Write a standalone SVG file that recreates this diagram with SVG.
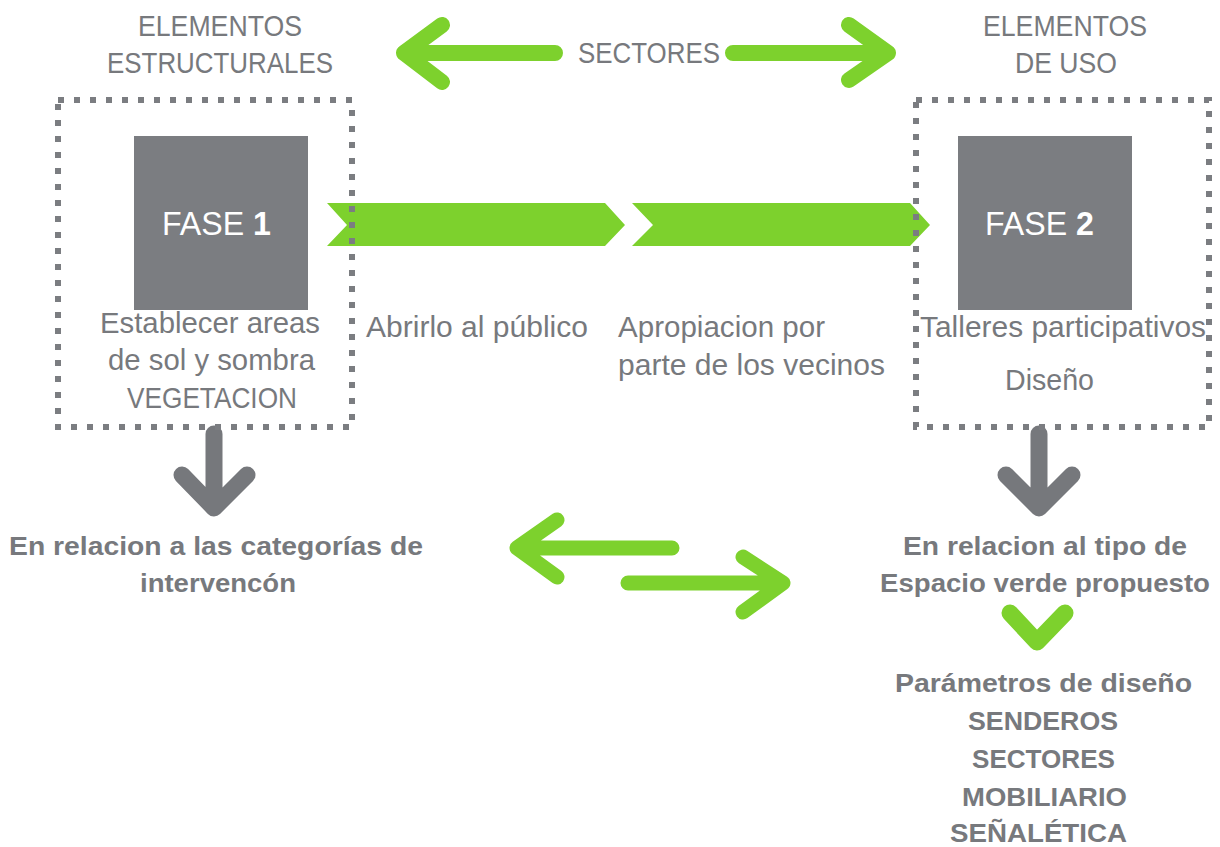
<svg xmlns="http://www.w3.org/2000/svg" width="1220" height="847" viewBox="0 0 1220 847">
<style>
.t{font-family:"Liberation Sans",Arial,sans-serif;fill:#77797d;font-size:29px}
.b{font-family:"Liberation Sans",Arial,sans-serif;fill:#77797d;font-size:26px;font-weight:bold}
.f{font-family:"Liberation Sans",Arial,sans-serif;fill:#ffffff;font-size:33px}
.box{fill:#7b7d81}
.dot{fill:none;stroke:#7b7d81;stroke-width:6;stroke-dasharray:6 10}
.ga{fill:none;stroke:#7dd12d;stroke-width:16;stroke-linecap:round;stroke-linejoin:round}
.gr{fill:none;stroke:#76787c;stroke-width:17;stroke-linecap:round;stroke-linejoin:round}
.chev{fill:#7dd12d}
</style>
<rect width="1220" height="847" fill="#ffffff"/>
<g id="connectors">
<polygon class="chev" points="327,203 605,203 625,225 605,246 327,246 347,225"/>
<polygon class="chev" points="632,203 910,203 930,225 910,246 632,246 653,225"/>
<path class="ga" d="M555,53 H404 M442,25 L404,53 L442,82"/>
<path class="ga" d="M733,53 H888 M849,25 L888,53 L849,80"/>
<path class="ga" style="stroke-width:15" d="M672,548 H517 M557,520 L517,548 L557,577"/>
<path class="ga" style="stroke-width:15" d="M628,583 H783 M743,557 L783,583 L743,612"/>
<path class="gr" d="M214,434 V508 M182,475 L214,508 L247,475"/>
<path class="gr" d="M1039,434 V508 M1006,475 L1039,508 L1072,475"/>
<path class="ga" style="stroke-width:17" d="M1010,613 L1037,642 L1065,613"/>
</g>
<g id="header-left">
<text class="t" x="138" y="36" textLength="164" lengthAdjust="spacingAndGlyphs">ELEMENTOS</text>
<text class="t" x="107" y="73" textLength="226" lengthAdjust="spacingAndGlyphs">ESTRUCTURALES</text>
</g>
<g id="sectores">
<text class="t" x="578" y="63" textLength="142" lengthAdjust="spacingAndGlyphs">SECTORES</text>
</g>
<g id="header-right">
<text class="t" x="983" y="36" textLength="164" lengthAdjust="spacingAndGlyphs">ELEMENTOS</text>
<text class="t" x="1015" y="73" textLength="102" lengthAdjust="spacingAndGlyphs">DE USO</text>
</g>
<g id="fase1">
<rect class="dot" x="58" y="100" width="294" height="327"/>
<rect class="box" x="134" y="136" width="174" height="174"/>
<text class="f" x="162" y="235" textLength="109" lengthAdjust="spacingAndGlyphs">FASE <tspan font-weight="bold">1</tspan></text>
<text class="t" x="100" y="333" textLength="220" lengthAdjust="spacingAndGlyphs">Establecer areas</text>
<text class="t" x="108" y="370" textLength="207" lengthAdjust="spacingAndGlyphs">de sol y sombra</text>
<text class="t" x="127" y="408" textLength="170" lengthAdjust="spacingAndGlyphs">VEGETACION</text>
</g>
<g id="abrirlo">
<text class="t" x="366" y="337" textLength="222" lengthAdjust="spacingAndGlyphs">Abrirlo al público</text>
</g>
<g id="apropiacion">
<text class="t" x="618" y="337" textLength="207" lengthAdjust="spacingAndGlyphs">Apropiacion por</text>
<text class="t" x="618" y="375" textLength="267" lengthAdjust="spacingAndGlyphs">parte de los vecinos</text>
</g>
<g id="fase2">
<rect class="dot" x="916" y="100" width="293" height="327"/>
<rect class="box" x="958" y="136" width="174" height="174"/>
<text class="f" x="985" y="235" textLength="109" lengthAdjust="spacingAndGlyphs">FASE <tspan font-weight="bold">2</tspan></text>
<text class="t" x="920" y="337" textLength="286" lengthAdjust="spacingAndGlyphs">Talleres participativos</text>
<text class="t" x="1005" y="390" textLength="89" lengthAdjust="spacingAndGlyphs">Diseño</text>
</g>
<g id="categorias">
<text class="b" x="9" y="555" textLength="414" lengthAdjust="spacingAndGlyphs">En relacion a las categorías de</text>
<text class="b" x="140" y="592" textLength="156" lengthAdjust="spacingAndGlyphs">intervencón</text>
</g>
<g id="tipo-espacio">
<text class="b" x="903" y="555" textLength="284" lengthAdjust="spacingAndGlyphs">En relacion al tipo de</text>
<text class="b" x="880" y="592" textLength="330" lengthAdjust="spacingAndGlyphs">Espacio verde propuesto</text>
</g>
<g id="parametros">
<text class="b" x="895" y="692" textLength="297" lengthAdjust="spacingAndGlyphs">Parámetros de diseño</text>
<text class="b" x="968" y="730" textLength="150" lengthAdjust="spacingAndGlyphs">SENDEROS</text>
<text class="b" x="972" y="768" textLength="143" lengthAdjust="spacingAndGlyphs">SECTORES</text>
<text class="b" x="962" y="806" textLength="165" lengthAdjust="spacingAndGlyphs">MOBILIARIO</text>
<text class="b" x="950" y="842" textLength="177" lengthAdjust="spacingAndGlyphs">SEÑALÉTICA</text>
</g>
</svg>
